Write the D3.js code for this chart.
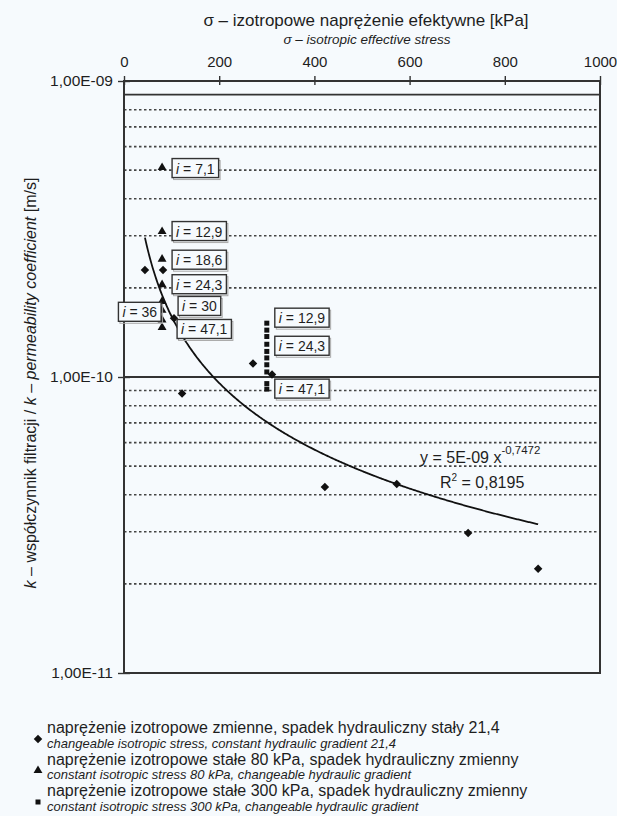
<!DOCTYPE html>
<html>
<head>
<meta charset="utf-8">
<script src="https://cdn.jsdelivr.net/npm/d3@7"></script>
<style>
  html, body { margin: 0; padding: 0; background: #f6fafd; }
  svg { display: block; font-family: "Liberation Sans", Arial, sans-serif; }
</style>
</head>
<body>
<svg id="chart" width="617" height="816"></svg>
<script>
// Axis ticks
const stressTicks = [0, 200, 400, 600, 800, 1000];
const kTicks = [1e-9, 1e-10, 1e-11];
const kTickLabels = ["1,00E-09", "1,00E-10", "1,00E-11"];

// Series 1: variable isotropic stress, constant hydraulic gradient 21,4
const varStress  = [44, 82, 105, 122, 271, 311, 422, 573, 723, 870];
const varStressK = [2.3e-10, 2.3e-10, 1.58e-10, 8.8e-11, 1.11e-10, 1.02e-10, 4.25e-11, 4.35e-11, 2.97e-11, 2.25e-11];

// Series 2: constant isotropic stress 80 kPa, variable hydraulic gradient
const stress80 = 80;
const k80 = [5.1e-10, 3.1e-10, 2.5e-10, 2.05e-10, 1.8e-10, 1.68e-10, 1.56e-10, 1.47e-10];
const grad80  = ["7,1", "12,9", "18,6", "24,3", "30", "36", "47,1"];
const grad80K = [5.1e-10, 3.1e-10, 2.5e-10, 2.05e-10, 1.8e-10, 1.68e-10, 1.47e-10];

// Series 3: constant isotropic stress 300 kPa, variable hydraulic gradient
const stress300 = 300;
const k300 = [1.52e-10, 1.44e-10, 1.37e-10, 1.29e-10, 1.22e-10, 1.16e-10, 1.10e-10, 1.04e-10, 9.5e-11, 9.1e-11];
const grad300  = ["12,9", "24,3", "47,1"];
const grad300K = [1.52e-10, 1.29e-10, 9.1e-11];

// Power trend fitted to series 1: k = a * sigma^b
const trendA = 5e-9, trendB = -0.7472;
const trendALabel = "5E-09", trendBLabel = "-0,7472", trendR2Label = "0,8195";
const trendRange = [44, 870];

// Legend texts
const legendPl = [
  "naprężenie izotropowe zmienne, spadek hydrauliczny stały 21,4",
  "naprężenie izotropowe stałe 80 kPa, spadek hydrauliczny zmienny",
  "naprężenie izotropowe stałe 300 kPa, spadek hydrauliczny zmienny"
];
const legendEn = [
  "changeable isotropic stress, constant hydraulic gradient 21,4",
  "constant isotropic stress 80 kPa, changeable hydraulic gradient",
  "constant isotropic stress 300 kPa, changeable hydraulic gradient"
];

// ---- layout ----
const svg = d3.select("#chart");
const ink = "#1e1e1e";
const bg = "#f6fafd";
const plotL = 124, plotR = 600, plotT = 81, plotB = 673;

const x = d3.scaleLinear().domain([0, 1000]).range([plotL, plotR]);
const y = d3.scaleLog().domain([1e-11, 1e-9]).range([plotB, plotT]);

// Minor gridlines (2..9 in each decade)
const minor = [];
[1e-11, 1e-10].forEach(dec => { for (let m = 2; m <= 9; m++) minor.push(m * dec); });
const isSolid = d => Math.abs(d - 9e-10) < 1e-13;
svg.append("g").selectAll("line").data(minor).join("line")
  .attr("x1", plotL).attr("x2", plotR)
  .attr("y1", d => y(d)).attr("y2", d => y(d))
  .attr("stroke", d => isSolid(d) ? "#333" : "#444")
  .attr("stroke-width", d => isSolid(d) ? 1.8 : 1.6)
  .attr("stroke-dasharray", d => isSolid(d) ? null : "2.5,2.5");

// Major gridline
svg.append("line")
  .attr("x1", plotL).attr("x2", plotR)
  .attr("y1", y(1e-10)).attr("y2", y(1e-10))
  .attr("stroke", "#333").attr("stroke-width", 1.8);

// Plot frame
svg.append("rect")
  .attr("x", plotL).attr("y", plotT)
  .attr("width", plotR - plotL).attr("height", plotB - plotT)
  .attr("fill", "none").attr("stroke", "#333").attr("stroke-width", 2);

// Top axis
const xAxis = svg.append("g").attr("transform", `translate(0,${plotT})`)
  .call(d3.axisTop(x).tickValues(stressTicks).tickSize(5).tickFormat(d3.format("d")));
xAxis.select(".domain").remove();
xAxis.selectAll(".tick line").attr("y1", 4).attr("y2", -5).attr("stroke", "#333").attr("stroke-width", 1.4);
xAxis.selectAll(".tick text")
  .attr("y", -14).attr("font-size", 15).attr("fill", ink)
  .attr("font-family", "Liberation Sans, Arial, sans-serif");

// Left axis
const yAxis = svg.append("g").attr("transform", `translate(${plotL},0)`)
  .call(d3.axisLeft(y).tickValues(kTicks).tickSize(6).tickFormat((d, i) => kTickLabels[i]));
yAxis.select(".domain").remove();
yAxis.selectAll(".tick line").attr("x1", 6).attr("x2", -6).attr("stroke", "#333").attr("stroke-width", 1.4);
yAxis.selectAll(".tick text")
  .attr("x", -11).attr("font-size", 15.5).attr("fill", ink)
  .attr("font-family", "Liberation Sans, Arial, sans-serif");

// Axis titles
svg.append("text").attr("x", 366).attr("y", 26).attr("text-anchor", "middle")
  .attr("font-size", 17).attr("fill", ink)
  .text("σ – izotropowe naprężenie efektywne [kPa]");
svg.append("text").attr("x", 367).attr("y", 44).attr("text-anchor", "middle")
  .attr("font-size", 13.5).attr("font-style", "italic").attr("fill", ink)
  .text("σ – isotropic effective stress");

const yTitle = svg.append("text")
  .attr("transform", `translate(36,383) rotate(-90)`)
  .attr("text-anchor", "middle").attr("font-size", 16).attr("fill", ink);
yTitle.append("tspan").attr("font-style", "italic").text("k");
yTitle.append("tspan").text(" – współczynnik filtracji / ");
yTitle.append("tspan").attr("font-style", "italic").text("k – permeability coefficient");
yTitle.append("tspan").text(" [m/s]");

// Trend curve
const trendPts = d3.range(trendRange[0], trendRange[1], 2).concat([trendRange[1]]);
svg.append("path")
  .datum(trendPts)
  .attr("d", d3.line().x(d => x(d)).y(d => y(trendA * Math.pow(d, trendB))))
  .attr("fill", "none").attr("stroke", "#111").attr("stroke-width", 1.8);

// Markers
const diamond = d3.symbol().type(d3.symbolSquare).size(36);
const triangle = d3.symbol().type(d3.symbolTriangle).size(34);
const square = d3.symbol().type(d3.symbolSquare).size(25);

svg.append("g").selectAll("path").data(k300).join("path")
  .attr("d", square).attr("fill", "#111")
  .attr("transform", d => `translate(${x(stress300)},${y(d)})`);
svg.append("g").selectAll("path").data(k80).join("path")
  .attr("d", triangle).attr("fill", "#111")
  .attr("transform", d => `translate(${x(stress80)},${y(d)})`);
svg.append("g").selectAll("path").data(varStress).join("path")
  .attr("d", diamond).attr("fill", "#111")
  .attr("transform", (d, i) => `translate(${x(d)},${y(varStressK[i])}) rotate(45)`);

// Gradient labels: placement relative to each marker
const place80 = [
  { dx: 10, dy: 1 }, { dx: 10, dy: 0 }, { dx: 10, dy: 1 }, { dx: 10, dy: 0 },
  { dx: 16, dy: 5 }, { dx: -1, dy: 2, end: true }, { dx: 15, dy: 2 }
];
const place300 = [{ dx: 8, dy: -5 }, { dx: 8, dy: 2 }, { dx: 8, dy: 0 }];

function gradientLabel(g, sx, k, text, p) {
  const cx = x(sx), cy = y(k) + p.dy;
  const grp = g.append("g");
  const t = grp.append("text").attr("font-size", 14).attr("fill", ink).attr("y", cy + 5);
  t.append("tspan").attr("font-style", "italic").text("i");
  t.append("tspan").text(" = " + text);
  const w = t.node().getComputedTextLength() + 8;
  const bx = p.end ? cx + p.dx - w : cx + p.dx;
  t.attr("x", bx + 4);
  grp.insert("rect", "text").attr("x", bx + 1.5).attr("y", cy - 8).attr("width", w).attr("height", 19)
    .attr("fill", "none").attr("stroke", "#aaa").attr("stroke-width", 1);
  grp.insert("rect", "text").attr("x", bx).attr("y", cy - 10).attr("width", w).attr("height", 19)
    .attr("fill", bg).attr("stroke", "#333").attr("stroke-width", 1.4);
}
const labels = svg.append("g");
grad80.forEach((t, i) => gradientLabel(labels, stress80, grad80K[i], t, place80[i]));
grad300.forEach((t, i) => gradientLabel(labels, stress300, grad300K[i], t, place300[i]));

// Trend equation
const eq = svg.append("text").attr("x", 420).attr("y", 463).attr("font-size", 16).attr("fill", ink);
eq.append("tspan").text(`y = ${trendALabel} x`);
eq.append("tspan").attr("dy", -9).attr("font-size", 11.5).text(trendBLabel);
const r2 = svg.append("text").attr("x", 440).attr("y", 488).attr("font-size", 16).attr("fill", ink);
r2.append("tspan").text("R");
r2.append("tspan").attr("dy", -7).attr("font-size", 10).text("2");
r2.append("tspan").attr("dy", 7).text(" = " + trendR2Label);

// Legend
const legendSymbols = [diamond, triangle, square];
const leg = svg.append("g");
legendPl.forEach((t, i) => {
  const base = 733 + i * 31.5;
  leg.append("path").attr("d", legendSymbols[i]).attr("fill", "#111")
    .attr("transform", `translate(38,${base + 6})` + (i === 0 ? " rotate(45)" : ""));
  leg.append("text").attr("x", 47).attr("y", base).attr("font-size", 16).attr("fill", ink).text(t);
  leg.append("text").attr("x", 47).attr("y", base + 14.5).attr("font-size", 13)
    .attr("font-style", "italic").attr("fill", ink).text(legendEn[i]);
});
</script>
</body>
</html>
